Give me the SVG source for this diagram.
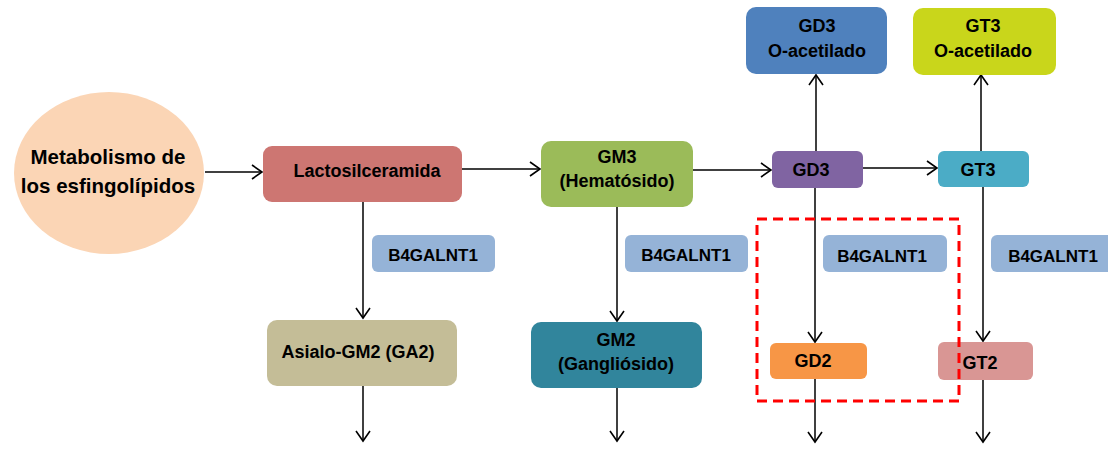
<svg xmlns="http://www.w3.org/2000/svg" width="1108" height="462" viewBox="0 0 1108 462">
<defs>
<marker id="arr" markerUnits="userSpaceOnUse" markerWidth="14" markerHeight="16" refX="11" refY="8" orient="auto">
<path d="M1,1 L11,8 L1,15" fill="none" stroke="#000" stroke-width="1.6"/>
</marker>
<style>
text{font-family:"Liberation Sans",Arial,sans-serif;font-weight:bold;font-size:18px;fill:#000;text-anchor:middle}
.big{font-size:20.5px}
.enz{font-size:17px}
.e{stroke:#000;stroke-width:1.5;fill:none;marker-end:url(#arr)}
</style>
</defs>
<rect width="1108" height="462" fill="#fff"/>
<g id="connectors">
<line class="e" x1="205" y1="172" x2="262" y2="172"/>
<line class="e" x1="462" y1="169" x2="540" y2="169"/>
<line class="e" x1="693" y1="170" x2="771" y2="170"/>
<line class="e" x1="863" y1="168" x2="937" y2="168"/>
<line class="e" x1="816" y1="151" x2="816" y2="75"/>
<line class="e" x1="981" y1="151" x2="981" y2="75"/>
<line class="e" x1="363" y1="202" x2="363" y2="318"/>
<line class="e" x1="617" y1="207" x2="617" y2="321"/>
<line class="e" x1="815" y1="188" x2="815" y2="342"/>
<line class="e" x1="983" y1="187" x2="983" y2="341"/>
<line class="e" x1="363" y1="386" x2="363" y2="441"/>
<line class="e" x1="617" y1="388" x2="617" y2="441"/>
<line class="e" x1="815" y1="379" x2="815" y2="442"/>
<line class="e" x1="983" y1="380" x2="983" y2="442"/>
</g>
<g id="n-metabolismo">
<ellipse cx="109" cy="173" rx="95" ry="81" fill="#FBD5B5"/>
<text class="big" x="108" y="164">Metabolismo de</text>
<text class="big" x="108" y="193">los esfingolípidos</text>
</g>
<g id="n-lactosil">
<rect x="263" y="146" width="199" height="56" rx="9" fill="#CD7672"/>
<text x="367" y="177">Lactosilceramida</text>
</g>
<g id="n-gm3">
<rect x="541" y="141" width="152" height="66" rx="10" fill="#9BBB59"/>
<text x="617" y="163">GM3</text>
<text x="617" y="187">(Hematósido)</text>
</g>
<g id="n-gd3">
<rect x="772" y="151" width="91" height="37" rx="6" fill="#8064A2"/>
<text x="811" y="176">GD3</text>
</g>
<g id="n-gt3">
<rect x="938" y="151" width="91" height="36" rx="6" fill="#4BACC6"/>
<text x="978" y="176">GT3</text>
</g>
<g id="n-gd3oac">
<rect x="746" y="7" width="141" height="67" rx="10" fill="#4F81BD"/>
<text x="817" y="32">GD3</text>
<text x="817" y="57">O-acetilado</text>
</g>
<g id="n-gt3oac">
<rect x="913" y="8" width="143" height="67" rx="10" fill="#C9D61B"/>
<text x="983" y="32">GT3</text>
<text x="983" y="57">O-acetilado</text>
</g>
<g id="n-enz1">
<rect x="372" y="235" width="123" height="37" rx="6" fill="#95B3D7"/>
<text class="enz" x="433" y="261">B4GALNT1</text>
</g>
<g id="n-enz2">
<rect x="625" y="235" width="123" height="37" rx="6" fill="#95B3D7"/>
<text class="enz" x="686" y="261">B4GALNT1</text>
</g>
<g id="n-enz3">
<rect x="823" y="235" width="124" height="37" rx="6" fill="#95B3D7"/>
<text class="enz" x="882" y="262">B4GALNT1</text>
</g>
<g id="n-enz4">
<rect x="991" y="235" width="124" height="37" rx="6" fill="#95B3D7"/>
<text class="enz" x="1053" y="262">B4GALNT1</text>
</g>
<g id="n-asialo">
<rect x="267" y="320" width="190" height="66" rx="10" fill="#C4BD97"/>
<text x="358" y="358">Asialo-GM2 (GA2)</text>
</g>
<g id="n-gm2">
<rect x="531" y="322" width="171" height="66" rx="10" fill="#31859C"/>
<text x="616" y="346">GM2</text>
<text x="616" y="370">(Gangliósido)</text>
</g>
<g id="n-gd2">
<rect x="770" y="343" width="97" height="36" rx="6" fill="#F79646"/>
<text x="813" y="367">GD2</text>
</g>
<g id="n-gt2">
<rect x="938" y="342" width="95" height="38" rx="6" fill="#D99694"/>
<text x="980" y="369">GT2</text>
</g>
<g id="highlight">
<rect x="757" y="219" width="202" height="182" fill="none" stroke="#FF0000" stroke-width="3" stroke-dasharray="10 6"/>
</g>
</svg>
